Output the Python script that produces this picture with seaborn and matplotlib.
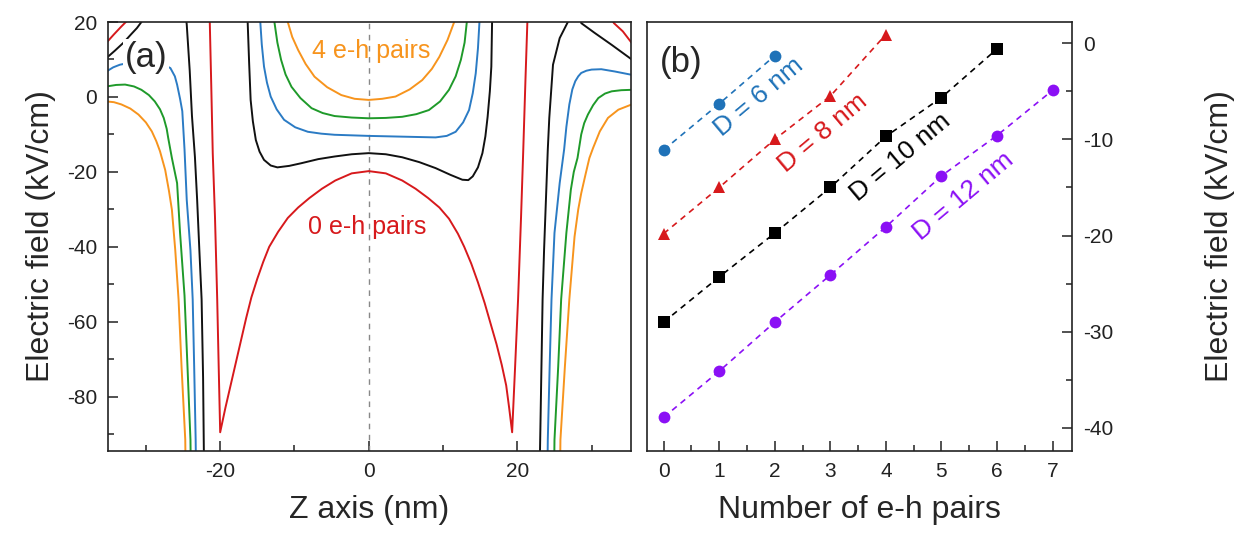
import numpy as np
import pandas as pd
import matplotlib
matplotlib.use("Agg")
import matplotlib.pyplot as plt
import seaborn as sns
from matplotlib.ticker import MultipleLocator

NAN = np.nan

# ---------------- panel (a): field profile along z for 0..4 e-h pairs ----------------
# NaN separates disconnected branches of the same curve
Z_0 = [-35.3, -34.3, -33.4, -32.6, -31.5,
       -21.5, -21.4, -21.2, -21.0, -20.7, -20.4, -20.2, -20.0,
       -19.3, -18.6, -17.9, -17.2, -16.5, -15.8, -15.0, -14.2, -13.4, -12.2, -10.9, -9.5,
       -8.0, -6.3, -4.5, -2.3, 0.0,
       2.3, 4.5, 6.3, 8.0, 9.5, 10.8, 12.0, 12.85, 13.8, 14.7, 15.6, 16.4, 17.2, 17.9,
       18.5, 18.9, 19.3,
       19.7, 20.1, 20.5, 20.8, 21.1, 21.35, 21.4,
       32.5, 33.0, 34.2, 35.4]
E_0 = [14.5, 16.7, 18.6, 20.2, 23.0,
       23.0, 20.0, 3.0, -15.0, -32.0, -54.0, -72.0, -89.5,
       -83.0, -77.0, -71.0, -65.0, -59.0, -53.5, -48.5, -44.0, -40.0, -36.0, -32.3, -29.5,
       -27.0, -24.5, -22.3, -20.4, -19.8,
       -20.4, -22.3, -24.5, -27.0, -29.5, -32.5, -36.5, -40.0, -44.5, -49.5, -55.0, -60.5,
       -66.0, -71.5, -77.0, -83.0, -89.5,
       -72.0, -54.0, -32.0, -14.0, 5.0, 20.0, 23.0,
       21.5, 19.7, 17.5, 14.4]

Z_1 = [-35.3, -34.2, -33.0, -32.0, -31.2, -30.6, -30.2,
       -24.7, -24.5, -24.1, -23.8, -23.4, -23.1, -22.8, -22.5, -22.3, -22.2, -22.15, NAN,
       -16.35, -16.3, -16.1, -15.9, -15.6, -15.2, -14.7, -14.1, -13.2, -12.3, -10.7, -9.1,
       -6.8, -4.6, -2.3, 0.0, 2.3, 4.5, 6.8, 9.0, 11.0, 12.6, 13.4, 14.0, 14.7,
       15.3, 15.7, 16.0, 16.3, 16.5, 16.6, 16.65, NAN,
       23.0, 23.1, 23.4, 23.6, 24.1, 24.3, 24.8, 25.7, 26.8, 27.2,
       28.4, 28.6, 30.4, 32.7, 35.4]
E_1 = [10.4, 12.3, 14.5, 16.7, 18.4, 20.0, 22.0,
       23.0, 19.3, 7.0, -5.0, -16.0, -27.5, -41.0, -54.0, -75.0, -94.0, -100.0, NAN,
       23.0, 20.0, 9.0, -0.8, -6.5, -11.5, -14.6, -16.8, -18.3, -18.8, -18.4, -17.7,
       -16.6, -15.9, -15.3, -15.0, -15.3, -16.1, -17.4, -19.0, -20.8, -22.1, -22.2, -21.2,
       -18.8, -15.0, -10.5, -5.3, 1.5, 8.1, 20.0, 23.0, NAN,
       -100.0, -88.8, -54.0, -40.8, -14.0, -5.6, 8.6, 15.7, 20.0, 23.0,
       23.0, 19.7, 17.1, 13.9, 10.0]

Z_2 = [-35.3, -34.4, -33.5, -31.5, -29.5, -27.8, -26.7, -26.1, -25.8, -25.4, -25.1,
       -24.8, -24.5, -24.0, -23.7, -23.5, -23.3, -23.25, NAN,
       -14.65, -14.6, -14.4, -14.1, -13.7, -13.2, -12.4, -11.4, -9.9, -8.2, -6.4, -4.6,
       0.0, 4.5, 9.0, 10.5, 11.7, 12.7, 13.5, 14.0, 14.4, 14.7, 14.9, 14.95, NAN,
       24.05, 24.1, 24.35, 24.6, 25.0, 25.7, 26.3, 26.6, 27.0, 27.4, 27.8, 28.2, 28.6,
       29.3, 30.0, 31.3, 33.1, 35.4]
E_2 = [6.8, 7.9, 8.6, 9.4, 9.5, 8.8, 7.7, 5.5, 3.3, -0.5, -3.8,
       -14.0, -27.5, -41.0, -54.0, -72.0, -91.5, -100.0, NAN,
       23.0, 20.0, 14.0, 8.1, 3.8, 0.1, -3.3, -6.1, -8.1, -9.3, -9.8, -10.1,
       -10.4, -10.6, -10.8, -10.4, -9.3, -6.8, -3.5, 1.0, 6.3, 13.0, 20.0, 23.0, NAN,
       -100.0, -91.5, -72.0, -54.0, -36.3, -23.0, -14.0, -8.0, -2.0, 2.0, 4.2, 5.5, 6.4,
       7.0, 7.3, 7.4, 6.8, 5.9]

Z_3 = [-35.3, -34.0, -32.8, -31.6, -30.6, -29.6, -28.8, -28.1, -27.6, -27.2, -27.0,
       -26.5, -25.8, -25.4, -24.8, -24.4, -24.0, -23.95, NAN,
       -12.75, -12.7, -12.3, -11.8, -11.2, -10.4, -9.2, -7.7, -6.2, -4.6, -2.3, 0.0,
       2.3, 4.5, 6.4, 8.1, 9.6, 10.8, 11.7, 12.4, 12.9, 13.2, 13.25, NAN,
       24.95, 25.0, 25.5, 25.9, 26.6, 27.2, 27.6, 28.1, 28.6, 29.0, 29.5, 30.2, 30.9,
       31.8, 32.7, 34.0, 35.4]
E_3 = [2.8, 3.2, 3.3, 2.8, 1.9, 0.5, -1.2, -3.3, -5.6, -8.5, -10.9,
       -16.3, -23.0, -36.3, -53.0, -72.0, -91.5, -100.0, NAN,
       23.0, 20.0, 14.5, 9.9, 6.0, 2.7, -0.3, -3.0, -4.3, -5.1, -5.5, -5.7,
       -5.6, -5.3, -4.6, -3.5, -1.2, 1.9, 5.5, 9.9, 14.5, 20.0, 23.0, NAN,
       -100.0, -91.5, -72.0, -54.0, -36.3, -24.8, -20.0, -16.3, -10.0, -7.0, -4.7, -2.2,
       -0.3, 0.9, 1.5, 1.8, 1.9]

Z_4 = [-35.3, -34.3, -33.3, -32.1, -31.0, -30.0, -29.2, -28.6, -28.1, -27.4, -26.9,
       -26.5, -26.05, -25.6, -25.2, -24.7, -24.65, NAN,
       -10.95, -10.9, -10.3, -9.5, -8.5, -7.3, -5.6, -3.7, -1.9, 0.0, 1.8, 3.6, 5.5, 7.2,
       8.5, 9.5, 10.6, 11.5, 11.6, NAN,
       25.75, 25.8, 26.4, 27.0, 27.7, 28.2, 28.6, 29.2, 29.7, 30.2, 31.1, 32.2, 33.6, 35.4]
E_4 = [-1.2, -1.4, -2.0, -3.1, -4.7, -6.8, -9.2, -11.8, -14.5, -19.5, -25.0,
       -30.1, -40.8, -54.1, -72.0, -91.5, -100.0, NAN,
       23.0, 20.0, 16.0, 12.5, 8.8, 5.4, 2.6, 0.5, -0.5, -0.8, -0.5, 0.1, 2.0, 4.5,
       7.5, 10.7, 15.2, 20.0, 23.0, NAN,
       -100.0, -91.5, -72.0, -54.0, -37.3, -30.0, -25.7, -20.5, -16.3, -13.6, -9.2, -5.6,
       -3.4, -2.0]

PAIR_LABELS = ["0", "1", "2", "3", "4"]
PAIR_COLORS = {"0": "#d7191c", "1": "#111111", "2": "#2b7bc4",
               "3": "#1f9a2a", "4": "#f7941d"}

# ---------------- panel (b): field vs number of e-h pairs ----------------
PAIRS_6 = [0, 1, 2]
FIELD_6 = [-11.1, -6.3, -1.3]
PAIRS_8 = [0, 1, 2, 3, 4]
FIELD_8 = [-19.8, -15.0, -10.0, -5.5, 0.9]
PAIRS_10 = [0, 1, 2, 3, 4, 5, 6]
FIELD_10 = [-29.0, -24.3, -19.75, -15.0, -9.7, -5.65, -0.6]
PAIRS_12 = [0, 1, 2, 3, 4, 5, 6, 7]
FIELD_12 = [-38.9, -34.1, -29.0, -24.1, -19.1, -13.8, -9.6, -4.9]

D_LABELS = ["D = 6 nm", "D = 8 nm", "D = 10 nm", "D = 12 nm"]
D_COLORS = {"D = 6 nm": "#1f72b8", "D = 8 nm": "#d7191c",
            "D = 10 nm": "#000000", "D = 12 nm": "#8b10f5"}
D_MARKERS = {"D = 6 nm": "o", "D = 8 nm": "^", "D = 10 nm": "s", "D = 12 nm": "o"}

# ---------------- build tables ----------------
rows_a = []
for lab, zs, es in zip(PAIR_LABELS, [Z_0, Z_1, Z_2, Z_3, Z_4], [E_0, E_1, E_2, E_3, E_4]):
    seg = 0
    for zi, ei in zip(zs, es):
        if np.isnan(zi):
            seg += 1
            continue
        rows_a.append((zi, ei, lab, f"{lab}_{seg}"))
df_a = pd.DataFrame(rows_a, columns=["z", "E", "pairs", "segment"])

rows_b = []
for lab, xs, ys in zip(D_LABELS, [PAIRS_6, PAIRS_8, PAIRS_10, PAIRS_12],
                       [FIELD_6, FIELD_8, FIELD_10, FIELD_12]):
    for xi, yi in zip(xs, ys):
        rows_b.append((xi, yi, lab))
df_b = pd.DataFrame(rows_b, columns=["n", "E", "D"])

# ---------------- style ----------------
sns.set_style("ticks")
plt.rcParams["font.family"] = ["Liberation Sans", "DejaVu Sans"]
plt.rcParams.update({
    "axes.unicode_minus": False,
    "axes.linewidth": 1.2,
    "axes.edgecolor": "#222222",
    "xtick.direction": "in",
    "ytick.direction": "in",
    "xtick.color": "#222222",
    "ytick.color": "#222222",
})

fig = plt.figure(figsize=(12.46, 5.33), dpi=100)
ax_a = fig.add_axes([108 / 1246, 1 - 451 / 533, 523 / 1246, 429 / 533])
ax_b = fig.add_axes([647 / 1246, 1 - 451 / 533, 425 / 1246, 429 / 533])

# ---- (a) ----
ax_a.axvline(0, color="#888888", lw=1.0, ls=(0, (4, 4)), zorder=1)
sns.lineplot(data=df_a, x="z", y="E", hue="pairs", units="segment", estimator=None,
             sort=False, palette=PAIR_COLORS, hue_order=PAIR_LABELS, legend=False,
             lw=1.4, ax=ax_a)
ax_a.set_xlim(-35.1, 35.3)
ax_a.set_ylim(-94.5, 20)
ax_a.xaxis.set_major_locator(MultipleLocator(20))
ax_a.xaxis.set_minor_locator(MultipleLocator(10))
ax_a.yaxis.set_major_locator(MultipleLocator(20))
ax_a.yaxis.set_minor_locator(MultipleLocator(10))
ax_a.tick_params(which="both", top=False, right=False, labelsize=15, width=1.1)
ax_a.tick_params(which="major", length=7, pad=8)
ax_a.tick_params(which="minor", length=4)
ax_a.set_xlabel("Z axis (nm)", fontsize=23, labelpad=10)
ax_a.set_ylabel("Electric field (kV/cm)", fontsize=23, labelpad=8)
ax_a.text(-30.0, 10.6, "(a)", fontsize=25, ha="center", va="center", zorder=5,
          bbox=dict(boxstyle="square,pad=0.05", fc="white", ec="none"))
ax_a.text(0.3, 12.3, "4 e-h pairs", color=PAIR_COLORS["4"], fontsize=18,
          ha="center", va="center", zorder=5)
ax_a.text(-0.2, -34.6, "0 e-h pairs", color=PAIR_COLORS["0"], fontsize=18,
          ha="center", va="center", zorder=5)

# ---- (b) ----
sns.lineplot(data=df_b, x="n", y="E", hue="D", style="D", hue_order=D_LABELS,
             style_order=D_LABELS, palette=D_COLORS, markers=D_MARKERS,
             dashes={k: (3.6, 3.0) for k in D_LABELS}, estimator=None, sort=False,
             markersize=8.5, markeredgewidth=0, lw=1.2, legend=False, ax=ax_b)
ax_b.set_xlim(-0.3, 7.35)
ax_b.set_ylim(-42.4, 2.2)
ax_b.xaxis.set_major_locator(MultipleLocator(1))
ax_b.xaxis.set_minor_locator(MultipleLocator(0.5))
ax_b.yaxis.set_major_locator(MultipleLocator(10))
ax_b.yaxis.set_minor_locator(MultipleLocator(5))
ax_b.yaxis.tick_right()
ax_b.yaxis.set_label_position("right")
ax_b.tick_params(which="both", top=False, left=False, labelleft=False,
                 right=True, labelright=True, labelsize=15, width=1.1)
ax_b.tick_params(which="major", length=7, pad=8)
ax_b.tick_params(which="minor", length=4)
ax_b.set_xlabel("Number of e-h pairs", fontsize=23, labelpad=10)
ax_b.set_ylabel("Electric field (kV/cm)", fontsize=23, labelpad=66)
ax_b.text(0.31, -2.0, "(b)", fontsize=25, ha="center", va="center")

label_pos = {"D = 6 nm": (1.71, -5.6), "D = 8 nm": (2.87, -9.3),
             "D = 10 nm": (4.26, -11.9), "D = 12 nm": (5.40, -15.9)}
for lab, (xx, yy) in label_pos.items():
    ax_b.text(xx, yy, lab, color=D_COLORS[lab], fontsize=19, rotation=40,
              rotation_mode="anchor", ha="center", va="center")

fig.savefig("out.png", dpi=100)
